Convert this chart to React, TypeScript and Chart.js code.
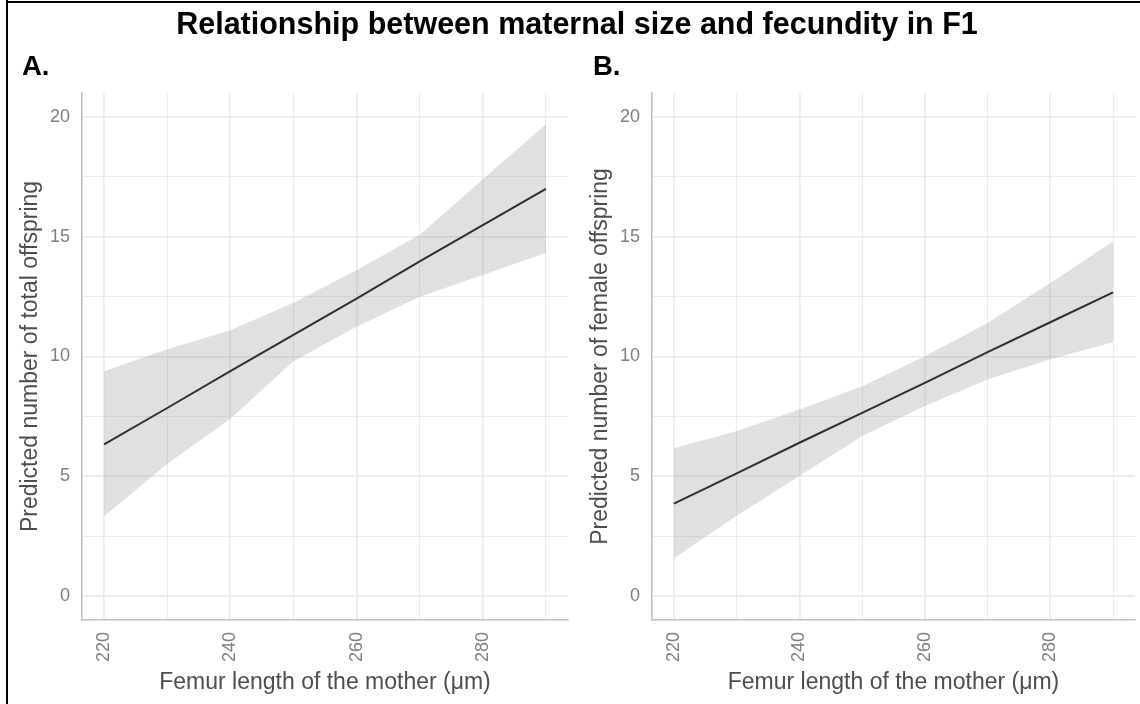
import React, { useEffect, useRef } from "react";
import { Chart, registerables } from "chart.js";

Chart.register(...registerables);

// ---- data ----
const femurLength = [220, 230, 240, 250, 260, 270, 280, 290];

const totalFit = [6.33, 7.85, 9.39, 10.9, 12.42, 13.97, 15.48, 17.0];
const totalUpper = [9.38, 10.3, 11.1, 12.24, 13.6, 15.08, 17.4, 19.7];
const totalLower = [3.33, 5.51, 7.4, 9.8, 11.24, 12.49, 13.4, 14.33];

const femaleFit = [3.86, 5.12, 6.4, 7.65, 8.9, 10.18, 11.43, 12.68];
const femaleUpper = [6.17, 6.89, 7.79, 8.76, 10.01, 11.4, 13.07, 14.8];
const femaleLower = [1.58, 3.35, 5.01, 6.68, 7.93, 9.04, 9.88, 10.6];

const xGridValues = [220, 230, 240, 250, 260, 270, 280, 290];
const xTickLabels = [220, 240, 260, 280];
const yGridValues = [0, 2.5, 5, 7.5, 10, 12.5, 15, 17.5, 20];
const yTickLabels = [0, 5, 10, 15, 20];

const FONT = "'Liberation Sans', Arial, Helvetica, sans-serif";

type PanelProps = {
  fit: number[];
  upper: number[];
  lower: number[];
  yTitle: string;
  rightPad: number;
};

function Panel({ fit, upper, lower, yTitle, rightPad }: PanelProps) {
  const ref = useRef<HTMLCanvasElement | null>(null);
  useEffect(() => {
    if (!ref.current) return;
    const pts = (arr: number[]) => femurLength.map((x, i) => ({ x, y: arr[i] }));
    const chart = new Chart(ref.current, {
      type: "line",
      data: {
        datasets: [
          {
            data: pts(upper),
            borderColor: "transparent",
            borderWidth: 0,
            pointRadius: 0,
            backgroundColor: "rgba(153,153,153,0.3)",
            fill: "+1",
            tension: 0,
          },
          {
            data: pts(lower),
            borderColor: "transparent",
            borderWidth: 0,
            pointRadius: 0,
            fill: false,
            tension: 0,
          },
          {
            data: pts(fit),
            borderColor: "#000000",
            borderWidth: 2,
            pointRadius: 0,
            fill: false,
            tension: 0,
          },
        ],
      },
      options: {
        animation: false,
        responsive: false,
        maintainAspectRatio: false,
        layout: { padding: { top: 93, right: rightPad, left: 0, bottom: 0 } },
        plugins: {
          legend: { display: false },
          tooltip: { enabled: false },
          title: { display: false },
        },
        scales: {
          x: {
            type: "linear",
            min: 216.5,
            max: 293.5,
            afterBuildTicks: (s: any) => {
              s.ticks = xGridValues.map((v) => ({ value: v }));
            },
            afterFit: (s: any) => {
              s.height = 84;
              s.paddingLeft = 0;
              s.paddingRight = 0;
            },
            grid: {
              drawTicks: false,
              color: "#ebebeb",
              lineWidth: (c: any) =>
                c.tick && xTickLabels.includes(c.tick.value) ? 1.7 : 1,
            },
            border: { display: true, color: "#c2c2c2", width: 1.6 },
            ticks: {
              autoSkip: false,
              maxRotation: 90,
              minRotation: 90,
              padding: 12,
              color: "#7f7f7f",
              font: { family: FONT, size: 18 },
              callback: (v: any) => (xTickLabels.includes(Number(v)) ? String(v) : ""),
            },
            title: {
              display: true,
              text: "Femur length of the mother (μm)",
              color: "#4d4d4d",
              font: { family: FONT, size: 23 },
              padding: { top: 0, bottom: 8 },
            },
          },
          y: {
            type: "linear",
            min: -1,
            max: 21,
            afterBuildTicks: (s: any) => {
              s.ticks = yGridValues.map((v) => ({ value: v }));
            },
            afterFit: (s: any) => {
              s.width = 82;
              s.paddingTop = 0;
              s.paddingBottom = 0;
            },
            grid: {
              drawTicks: false,
              color: "#ebebeb",
              lineWidth: (c: any) =>
                c.tick && yTickLabels.includes(c.tick.value) ? 1.7 : 1,
            },
            border: { display: true, color: "#c2c2c2", width: 1.6 },
            ticks: {
              autoSkip: false,
              padding: 12,
              color: "#7f7f7f",
              font: { family: FONT, size: 18 },
              callback: (v: any) => (yTickLabels.includes(Number(v)) ? String(v) : ""),
            },
            title: {
              display: true,
              text: yTitle,
              color: "#4d4d4d",
              font: { family: FONT, size: 23 },
              padding: { top: 17, bottom: 0 },
            },
          },
        },
      } as any,
    });
    return () => chart.destroy();
  }, [fit, upper, lower, yTitle, rightPad]);
  return <canvas ref={ref} width={570} height={704} style={{ display: "block" }} />;
}

export default function App() {
  useEffect(() => {
    document.body.style.margin = "0";
    document.body.style.background = "#ffffff";
  }, []);
  return (
    <div
      style={{
        position: "relative",
        width: 1140,
        height: 704,
        overflow: "hidden",
        background: "#ffffff",
        fontFamily: FONT,
      }}
    >
      <div style={{ position: "absolute", left: 0, top: 0 }}>
        <Panel
          fit={totalFit}
          upper={totalUpper}
          lower={totalLower}
          yTitle="Predicted number of total offspring"
          rightPad={2}
        />
      </div>
      <div style={{ position: "absolute", left: 570, top: 0 }}>
        <Panel
          fit={femaleFit}
          upper={femaleUpper}
          lower={femaleLower}
          yTitle="Predicted number of female offspring"
          rightPad={5}
        />
      </div>
      <div
        style={{
          position: "absolute",
          left: 577,
          top: 8,
          transform: "translateX(-50%)",
          whiteSpace: "nowrap",
          fontWeight: "bold",
          fontSize: 30.5,
          lineHeight: "30px",
          color: "#000",
        }}
      >
        Relationship between maternal size and fecundity in F1
      </div>
      <div
        style={{
          position: "absolute",
          left: 22,
          top: 52,
          fontWeight: "bold",
          fontSize: 27.5,
          lineHeight: "27px",
          color: "#000",
        }}
      >
        A.
      </div>
      <div
        style={{
          position: "absolute",
          left: 593,
          top: 52,
          fontWeight: "bold",
          fontSize: 27.5,
          lineHeight: "27px",
          color: "#000",
        }}
      >
        B.
      </div>
      <div style={{ position: "absolute", left: 6, top: 0, width: 2, height: 704, background: "#000" }} />
      <div style={{ position: "absolute", left: 6, top: 1, width: 1134, height: 2, background: "#000" }} />
    </div>
  );
}
